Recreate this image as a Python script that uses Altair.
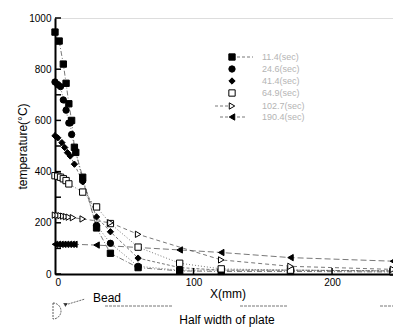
import altair as alt
import pandas as pd

series = ["11.4(sec)", "24.6(sec)", "41.4(sec)", "64.9(sec)", "102.7(sec)", "190.4(sec)"]

x_s1 = [0, 3, 6, 8, 10, 12, 14, 15, 20, 30, 40, 60, 90, 120, 170, 244]
y_s1 = [945, 910, 820, 745, 665, 600, 495, 475, 378, 180, 81, 25, 12, 10, 10, 8]

x_s2 = [0, 2, 4, 6, 8, 10, 11, 12, 20, 30, 40, 60, 90, 120, 170, 244]
y_s2 = [750, 740, 732, 680, 640, 590, 590, 545, 365, 190, 120, 30, 15, 15, 15, 12]

x_s3 = [0, 2, 5, 7, 9, 11, 14, 20, 30, 40, 60, 90, 120, 170, 244]
y_s3 = [540, 532, 513, 494, 474, 461, 429, 360, 223, 165, 62, 25, 15, 15, 12]

x_s4 = [0, 2, 4, 6, 8, 10, 20, 30, 40, 60, 90, 120, 170, 244]
y_s4 = [384, 382, 378, 372, 365, 352, 320, 262, 197, 105, 42, 20, 15, 12]

x_s5 = [0, 2, 4, 6, 8, 10, 13, 20, 40, 60, 120, 170, 244]
y_s5 = [230, 229, 228, 226, 224, 222, 220, 215, 200, 155, 55, 30, 18]

x_s6 = [0, 2, 4, 6, 8, 10, 12, 14, 30, 90, 120, 170, 244]
y_s6 = [116, 116, 116, 116, 116, 116, 116, 116, 113, 94, 84, 64, 50]

y_ticks = [0, 100, 200, 300, 400, 500, 600, 700, 800, 900, 1000]
x_ticks = [0, 100, 200]

shapes = ["square", "circle", "diamond", "square", "triangle-right", "triangle-left"]
fills = ["black", "black", "black", "white", "white", "black"]
dashes = [[5, 2, 1, 2], [1, 2], [3, 2], [1, 2], [4, 3], [6, 3]]

rows = []
for name, xs, ys in zip(series,
                        [x_s1, x_s2, x_s3, x_s4, x_s5, x_s6],
                        [y_s1, y_s2, y_s3, y_s4, y_s5, y_s6]):
    for a, b in zip(xs, ys):
        rows.append({"series": name, "x": a, "y": b})
df = pd.DataFrame(rows)

FONT = "Liberation Sans"
W, H = 338, 256

xscale = alt.Scale(domain=[0, 244], nice=False, zero=False)
yscale = alt.Scale(domain=[0, 1000], nice=False)
shape_scale = alt.Scale(domain=series, range=shapes)
fill_scale = alt.Scale(domain=series, range=fills)

xenc = alt.X("x:Q", scale=xscale,
             axis=alt.Axis(values=x_ticks, tickSize=0, grid=False, domainWidth=2,
                           domainColor="black", labelFontSize=10, labelColor="black",
                           labelFont=FONT, labelPadding=3, format="d", title=None))
yenc = alt.Y("y:Q", scale=yscale,
             axis=alt.Axis(values=y_ticks, tickSize=0, grid=False, domainWidth=2,
                           domainColor="black", labelFontSize=10, labelColor="black",
                           labelFont=FONT, labelPadding=4, labelFlush=False, format="d",
                           title="temperature(°C)", titleFont=FONT, titleFontSize=12,
                           titleFontWeight="normal", titleColor="black",
                           titleX=-33, titleY=H / 2, titleAngle=-90,
                           titleAlign="center", titleBaseline="middle"))

lines = alt.Chart(df).mark_line(color="#555", strokeWidth=0.8).encode(
    x=xenc, y=yenc,
    strokeDash=alt.StrokeDash("series:N", scale=alt.Scale(domain=series, range=dashes), legend=None),
    order="x:Q",
)

points = alt.Chart(df).mark_point(size=40, stroke="black", strokeWidth=1,
                                  opacity=1, fillOpacity=1).encode(
    x=xenc, y=yenc,
    shape=alt.Shape("series:N", scale=shape_scale, legend=None),
    fill=alt.Fill("series:N", scale=fill_scale, legend=None),
)

# manual legend (pixel positions inside plot area)
leg_df = pd.DataFrame({"series": series,
                       "lx": [177] * 6,
                       "ly": [39, 51, 63, 75, 88, 99],
                       "tx": [207] * 6})
leg_pts = alt.Chart(leg_df).mark_point(size=40, stroke="black", strokeWidth=1,
                                       opacity=1, fillOpacity=1).encode(
    x=alt.X("lx:Q", scale=None), y=alt.Y("ly:Q", scale=None),
    shape=alt.Shape("series:N", scale=shape_scale, legend=None),
    fill=alt.Fill("series:N", scale=fill_scale, legend=None),
)
leg_txt = alt.Chart(leg_df).mark_text(font=FONT, fontSize=9, color="#b4b4b4",
                                      align="left", baseline="middle").encode(
    x=alt.X("tx:Q", scale=None), y=alt.Y("ly:Q", scale=None), text="series:N")
leg_line_df = pd.DataFrame({"a": [182, 160, 165, 182], "b": [198, 173, 173, 192],
                            "ly": [39, 88, 99, 99]})
leg_lines = alt.Chart(leg_line_df).mark_rule(color="#555", strokeWidth=0.8,
                                            strokeDash=[3, 2]).encode(
    x=alt.X("a:Q", scale=None), x2="b:Q", y=alt.Y("ly:Q", scale=None))

ytick_df = pd.DataFrame({"v": y_ticks})
xtick_df = pd.DataFrame({"v": x_ticks[1:]})
yt = alt.Chart(ytick_df).mark_rule(color="black", strokeWidth=1.5).encode(
    y=alt.Y("v:Q", scale=yscale), x=alt.value(0), x2=alt.value(6))
xt = alt.Chart(xtick_df).mark_rule(color="black", strokeWidth=1.5).encode(
    x=alt.X("v:Q", scale=xscale), y=alt.value(H), y2=alt.value(H - 6))

xtitle = alt.Chart(pd.DataFrame({"t": ["X(mm)"]})).mark_text(
    font=FONT, fontSize=12, color="black").encode(
    text="t:N", x=alt.value(173), y=alt.value(276))
bead = alt.Chart(pd.DataFrame({"t": ["Bead"]})).mark_text(
    font=FONT, fontSize=12, color="black", align="left").encode(
    text="t:N", x=alt.value(38), y=alt.value(280))
half = alt.Chart(pd.DataFrame({"t": ["Half width of plate"]})).mark_text(
    font=FONT, fontSize=12, color="black").encode(
    text="t:N", x=alt.value(172), y=alt.value(302))

seg_df = pd.DataFrame({"a": [50, 185, 325], "b": [118, 232, 346]})
segs = alt.Chart(seg_df).mark_rule(color="#777", strokeWidth=1, strokeDash=[3, 1]).encode(
    x=alt.X("a:Q", scale=None), x2="b:Q", y=alt.value(288))

arrow = alt.Chart(pd.DataFrame({"k": [0]})).mark_rule(color="#444", strokeWidth=0.8,
                                                      strokeDash=[2, 1]).encode(
    x=alt.value(10), y=alt.value(287), x2=alt.value(30), y2=alt.value(281))
arrowhead = alt.Chart(pd.DataFrame({"k": [0]})).mark_point(
    shape="triangle-right", size=20, filled=True, color="black", angle=330).encode(
    x=alt.value(11), y=alt.value(286))
beadarc = alt.Chart(pd.DataFrame({"k": [0]})).mark_arc(
    fill=None, stroke="#333", strokeWidth=0.8, strokeDash=[2, 1],
    theta=0.0, theta2=3.14159, outerRadius=8, innerRadius=0).encode(
    x=alt.value(-2), y=alt.value(293))

chart = alt.layer(lines, points, leg_lines, leg_pts, leg_txt, yt, xt, xtitle, bead, half,
                  segs, arrow, arrowhead, beadarc).properties(
    width=W, height=H,
    autosize=alt.AutoSizeParams(type="none"),
    padding={"left": 47, "top": 10, "right": 0, "bottom": 57},
).configure_view(stroke=None).configure(background="white")

chart.save("out.html", embed_options={"renderer": "svg", "actions": False})
